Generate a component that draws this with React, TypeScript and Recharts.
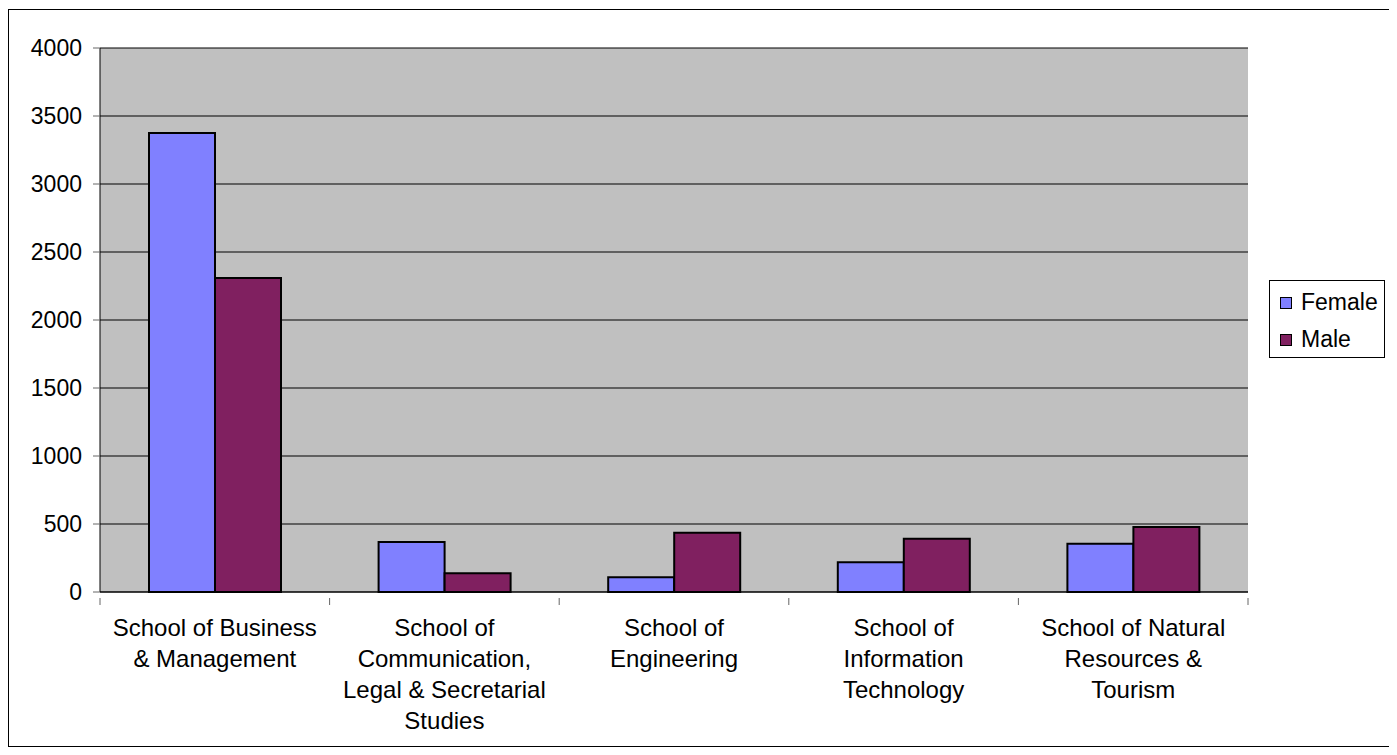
import { BarChart, Bar, XAxis, YAxis, CartesianGrid } from 'recharts';

const categories = [
  'School of Business & Management',
  'School of Communication, Legal & Secretarial Studies',
  'School of Engineering',
  'School of Information Technology',
  'School of Natural Resources & Tourism',
];

const categoryLines = [
  ['School of Business', '& Management'],
  ['School of', 'Communication,', 'Legal & Secretarial', 'Studies'],
  ['School of', 'Engineering'],
  ['School of', 'Information', 'Technology'],
  ['School of Natural', 'Resources &', 'Tourism'],
];

const female = [3375, 368, 108, 218, 355];
const male = [2309, 137, 436, 392, 478];

const yTicks = [0, 500, 1000, 1500, 2000, 2500, 3000, 3500, 4000];

const data = categories.map((name, i) => ({
  name,
  Female: female[i],
  Male: male[i],
}));

const FONT = '"Liberation Sans", Arial, sans-serif';

const CategoryTick = (props: any) => {
  const { x, y, payload, index } = props;
  const half = payload.offset || 0;
  const lines = categoryLines[payload.index ?? index] || [payload.value];
  return (
    <g>
      <line x1={x - half} y1={y - 2} x2={x - half} y2={y + 5} stroke="#666" />
      {index === categories.length - 1 && (
        <line x1={x + half} y1={y - 2} x2={x + half} y2={y + 5} stroke="#666" />
      )}
      {lines.map((line: string, i: number) => (
        <text
          key={i}
          x={x}
          y={y + 30 + i * 31}
          textAnchor="middle"
          dominantBaseline="middle"
          fontSize={24}
          fontFamily={FONT}
          fill="#000"
        >
          {line}
        </text>
      ))}
    </g>
  );
};

const LegendBox = () => (
  <div
    style={{
      width: 116,
      height: 78,
      border: '1px solid #000',
      background: '#fff',
      fontFamily: FONT,
      fontSize: 23,
      boxSizing: 'border-box',
      paddingTop: 3,
      paddingLeft: 10,
    }}
  >
    {[
      { label: 'Female', color: '#8080FF' },
      { label: 'Male', color: '#802060' },
    ].map((item) => (
      <div key={item.label} style={{ display: 'flex', alignItems: 'center', height: 37 }}>
        <span
          style={{
            display: 'inline-block',
            width: 10,
            height: 10,
            border: '1.5px solid #000',
            background: item.color,
            marginRight: 9,
          }}
        />
        <span>{item.label}</span>
      </div>
    ))}
  </div>
);

export default function App() {
  return (
    <div
      style={{
        width: 1381,
        height: 736,
        border: '1px solid #000',
        marginTop: 1,
        background: '#fff',
        position: 'relative',
      }}
    >
      <BarChart
        width={1381}
        height={736}
        data={data}
        margin={{ top: 38, right: 142, left: 11, bottom: 14 }}
        barCategoryGap={49}
        barGap={0}
      >
        <CartesianGrid
          vertical={false}
          stroke="#000"
          strokeOpacity={1}
          fill="#C0C0C0"
          fillOpacity={1}
        />
        <XAxis
          dataKey="name"
          height={140}
          interval={0}
          tickLine={false}
          axisLine={{ stroke: '#000' }}
          tick={<CategoryTick />}
        />
        <YAxis
          width={80}
          domain={[0, 4000]}
          ticks={yTicks}
          interval={0}
          tickSize={7}
          tickMargin={11}
          axisLine={{ stroke: '#000' }}
          tickLine={{ stroke: '#666' }}
          tick={{ fill: '#000', fontSize: 23, fontFamily: FONT }}
        />
        <Bar dataKey="Female" fill="#8080FF" stroke="#000" strokeWidth={2} isAnimationActive={false} />
        <Bar dataKey="Male" fill="#802060" stroke="#000" strokeWidth={2} isAnimationActive={false} />
      </BarChart>
      <div style={{ position: 'absolute', left: 1260, top: 270 }}>
        <LegendBox />
      </div>
    </div>
  );
}
